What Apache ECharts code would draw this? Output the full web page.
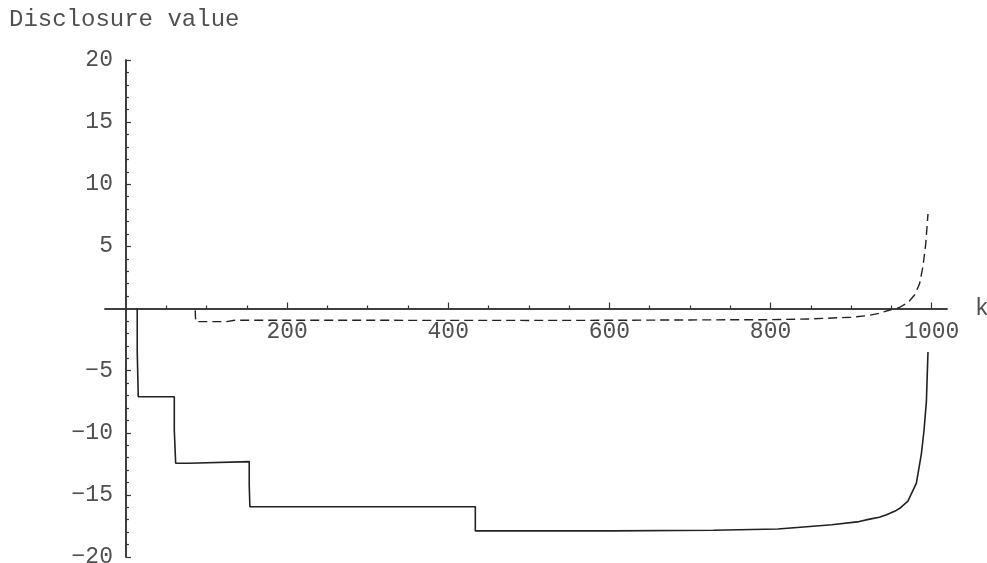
<!DOCTYPE html>
<html>
<head>
<meta charset="utf-8">
<script src="https://cdn.jsdelivr.net/npm/echarts@6/dist/echarts.min.js"></script>
<style>
html,body{margin:0;padding:0;background:#fff;}
#chart{width:987px;height:563px;}
</style>
</head>
<body>
<div id="chart"></div>
<script>
// ---- data ----
const yTitle = 'Disclosure value';
const xName = 'k';
const xMajorTicks = [200, 400, 600, 800, 1000];
const xMinorTicks = [50, 100, 150, 250, 300, 350, 450, 500, 550, 650, 700, 750, 850, 900, 950];
const yMajorTicks = [-20, -15, -10, -5, 5, 10, 15, 20];
const yMinorTicks = [-19,-18,-17,-16,-14,-13,-12,-11,-9,-8,-7,-6,-4,-3,-2,-1,1,2,3,4,6,7,8,9,11,12,13,14,16,17,18,19];

// solid series (k, value)
const solidK = [14, 14, 15.3, 15.3, 60, 60, 61.7, 61.7, 78, 79, 153, 153, 153.8, 153.8, 433.6, 433.6, 603, 605, 729, 731, 809, 841, 876, 910, 923, 935, 944, 956, 960, 970.5, 981, 987.2, 990.5, 993.4, 995.4];
const solidV = [0, -3.5, -3.6, -7.1, -7.1, -9.8, -9.9, -12.45, -12.45, -12.32, -12.32, -14.2, -14.3, -15.95, -15.95, -17.9, -17.9, -17.85, -17.85, -17.75, -17.75, -17.58, -17.4, -17.15, -16.95, -16.8, -16.6, -16.25, -16.1, -15.5, -14.05, -11.7, -9.8, -7.5, -3.5];

// dashed series (k, value)
const dashK = [86, 86.5, 125, 135, 300, 500, 600, 700, 800, 850, 900, 920, 935, 948, 960, 970.5, 979, 985, 989.2, 992.6, 995.4];
const dashV = [-0.15, -1.06, -1.06, -0.95, -0.95, -0.96, -0.95, -0.92, -0.9, -0.84, -0.7, -0.58, -0.38, -0.12, 0.08, 0.47, 1.1, 2.0, 3.4, 5.2, 7.6];

const solidData = solidK.map((k, i) => [k, solidV[i]]);
const dashData = dashK.map((k, i) => [k, dashV[i]]);

const FONT = 'Liberation Mono';
const TXT = '#505050';
const AX = '#333';
const minus = v => String(v).replace('-', '\u2212');

// grid geometry: x from -26..1019 over 842px, y from -20..20 over 497px
const GL = 105, GT = 60, GW = 842, GH = 497;
const xMin = -26, xMax = 1019, yMin = -20, yMax = 20;
const xZeroOffset = -(0 - xMin) / (xMax - xMin) * GW;   // move y-axis to x=0
const yZeroOffset = -(0 - yMin) / (yMax - yMin) * GH;   // move x-axis to y=0

const chart = echarts.init(document.getElementById('chart'), null, {renderer: 'canvas'});
chart.setOption({
  animation: false,
  backgroundColor: '#fff',
  title: {
    text: yTitle, left: 9, top: 8, padding: 0,
    textStyle: {fontFamily: FONT, fontSize: 24, fontWeight: 'normal', color: TXT}
  },
  grid: {left: GL, top: GT, width: GW, height: GH, containLabel: false, outerBoundsMode: 'none'},
  xAxis: [
    {
      type: 'value', min: xMin, max: xMax, position: 'bottom', offset: yZeroOffset,
      name: xName, nameLocation: 'end', nameGap: 28,
      nameTextStyle: {fontFamily: FONT, fontSize: 23, color: TXT, verticalAlign: 'middle'},
      axisLine: {onZero: false, lineStyle: {color: AX, width: 1.5}},
      axisTick: {show: true, inside: true, length: 6, customValues: xMajorTicks, lineStyle: {color: AX, width: 1.2}},
      axisLabel: {customValues: xMajorTicks, margin: 12, fontFamily: FONT, fontSize: 23, color: TXT, formatter: minus},
      splitLine: {show: false}
    },
    {
      type: 'value', min: xMin, max: xMax, position: 'bottom', offset: yZeroOffset,
      axisLine: {onZero: false, lineStyle: {color: AX, width: 1.5}},
      axisTick: {show: true, inside: true, length: 3, customValues: xMinorTicks, lineStyle: {color: AX, width: 1.2}},
      axisLabel: {show: false},
      splitLine: {show: false}
    }
  ],
  yAxis: [
    {
      type: 'value', min: yMin, max: yMax, position: 'left', offset: xZeroOffset,
      axisLine: {onZero: false, lineStyle: {color: AX, width: 1.5}},
      axisTick: {show: true, inside: true, length: 5, customValues: yMajorTicks, lineStyle: {color: AX, width: 1.2}},
      axisLabel: {customValues: yMajorTicks, margin: 13, fontFamily: FONT, fontSize: 23, color: TXT, formatter: minus},
      splitLine: {show: false}
    },
    {
      type: 'value', min: yMin, max: yMax, position: 'left', offset: xZeroOffset,
      axisLine: {onZero: false, lineStyle: {color: AX, width: 1.5}},
      axisTick: {show: true, inside: true, length: 3, customValues: yMinorTicks, lineStyle: {color: AX, width: 1.2}},
      axisLabel: {show: false},
      splitLine: {show: false}
    }
  ],
  series: [
    {
      type: 'line', xAxisIndex: 0, yAxisIndex: 0, data: solidData,
      showSymbol: false, symbol: 'none', clip: false,
      lineStyle: {color: '#222', width: 1.6}
    },
    {
      type: 'line', xAxisIndex: 0, yAxisIndex: 0, data: dashData,
      showSymbol: false, symbol: 'none', clip: false,
      lineStyle: {color: '#222', width: 1.4, type: [9, 5]}
    }
  ]
});
</script>
</body>
</html>
